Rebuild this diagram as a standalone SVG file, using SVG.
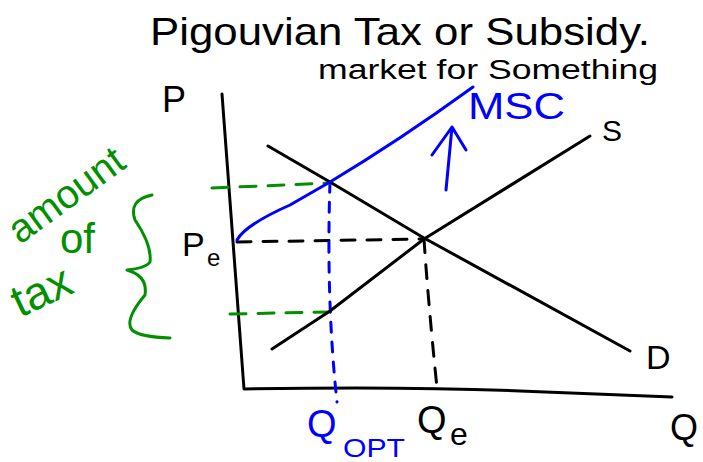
<svg xmlns="http://www.w3.org/2000/svg" width="703" height="462" viewBox="0 0 703 462">
<style>
.k{fill:none;stroke:#000;stroke-width:3;stroke-linecap:round;stroke-linejoin:round}
.b{fill:none;stroke:#0000ff;stroke-width:3;stroke-linecap:round;stroke-linejoin:round}
.g{fill:none;stroke:#009000;stroke-width:3;stroke-linecap:round;stroke-linejoin:round}
.t{font-family:"Liberation Sans","DejaVu Sans",sans-serif;fill:#000}
.tb{font-family:"Liberation Sans","DejaVu Sans",sans-serif;fill:#0000ff}
.tg{font-family:"Liberation Sans","DejaVu Sans",sans-serif;fill:#009000}
</style>
<rect width="703" height="462" fill="#fff"/>
<g id="title">
<text class="t" x="150" y="45" font-size="39" textLength="500" lengthAdjust="spacingAndGlyphs">Pigouvian Tax or Subsidy.</text>
<text class="t" x="318" y="79" font-size="27" textLength="340" lengthAdjust="spacingAndGlyphs">market for Something</text>
</g>
<g id="axes">
<path class="k" d="M222,94 L244,389 Q400,386 520,391 T672,397"/>
<text class="t" x="162" y="112" font-size="36">P</text>
<text class="t" x="670" y="440" font-size="36">Q</text>
</g>
<g id="connectors">
<path class="k" stroke-dasharray="14,12" d="M237,242 L424,239"/>
<path class="k" stroke-dasharray="14,12" d="M424,239 Q428,300 437,388"/>
<path class="b" stroke-dasharray="10,10" d="M330,182 Q326,300 337,402"/>
<path class="g" stroke-dasharray="16,12" d="M212,188 L330,183"/>
<path class="g" stroke-dasharray="16,12" d="M230,314 L328,312"/>
</g>
<g id="demand">
<path class="k" d="M268,146 L330,182 L424,238 L630,351"/>
<text class="t" x="646" y="369" font-size="34">D</text>
</g>
<g id="supply">
<path class="k" d="M272,349 L330,311 L424,239 L590,136"/>
<text class="t" x="602" y="141" font-size="30">S</text>
</g>
<g id="msc">
<path class="b" d="M237,240 Q245,225 290,205 L330,182 Q400,140 473,87"/>
<text class="tb" x="468" y="119" font-size="36" textLength="97" lengthAdjust="spacingAndGlyphs">MSC</text>
<path class="b" d="M446,190 L452,127 M432,155 L452,127 L466,150"/>
</g>
<g id="labels">
<text class="t" x="182" y="256" font-size="34">P</text>
<text class="t" x="207" y="266" font-size="24">e</text>
<text class="tb" x="307" y="437" font-size="38">Q</text>
<text class="tb" x="343" y="457" font-size="26" textLength="62" lengthAdjust="spacingAndGlyphs">OPT</text>
<text class="t" x="417" y="433" font-size="38">Q</text>
<text class="t" x="450" y="445" font-size="32">e</text>
</g>
<g id="tax">
<text class="tg" font-size="40" transform="translate(20,245) rotate(-36)">amount</text>
<text class="tg" font-size="42" x="60" y="253">of</text>
<text class="tg" font-size="46" transform="translate(20,318) rotate(-25)">tax</text>
<path class="g" d="M152,195 Q128,200 135,220 Q152,245 150,262 Q146,268 127,270 Q148,276 145,295 Q124,320 132,330 Q140,337 170,338"/>
</g>
</svg>
